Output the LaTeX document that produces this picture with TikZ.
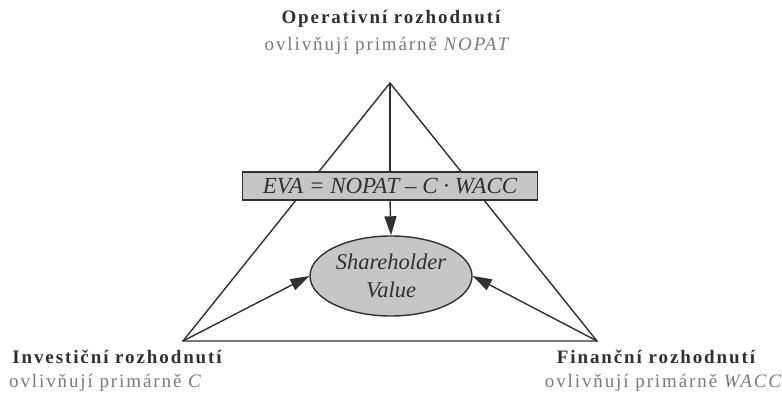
\documentclass[tikz,border=0pt]{standalone}
\usepackage{fontspec}
\setmainfont{Liberation Serif}
\newfontfamily\spacedfont[LetterSpace=10]{Liberation Serif}
\usetikzlibrary{arrows.meta,shapes.geometric}
\definecolor{linegray}{HTML}{303030}
\definecolor{subgray}{HTML}{7A7A7A}
\definecolor{fillgray}{HTML}{C6C6C6}
\begin{document}
\begin{tikzpicture}[x=1pt, y=-1pt,
		edge/.style={draw=linegray, line width=1.4pt},
		head/.style={edge, -{Triangle[length=19pt, width=12pt]}},
		title/.style={text=linegray, font=\spacedfont\fontsize{19}{22}\selectfont\bfseries},
		sub/.style={text=subgray, font=\spacedfont\fontsize{19}{22}\selectfont}]
				\useasboundingbox (0, 0) rectangle (782, 396);
				\coordinate (top) at (390, 83);
				\coordinate (left) at (183, 341);
				\coordinate (right) at (597, 341);
				
				\draw[edge, line join=miter] (top) -- (left) -- (right) -- cycle;
				
				\node[edge, fill=fillgray, minimum width=295pt, minimum height=28pt, inner sep=0pt,
					font=\fontsize{23}{24}\selectfont\itshape, text=linegray] (eva) at (390, 186)
					{EVA = NOPAT – C · WACC};
				\node[edge, fill=fillgray, ellipse, minimum width=162pt, minimum height=80pt, inner sep=0pt,
					align=center, font=\fontsize{22.5}{28}\selectfont\itshape, text=linegray] (sv) at (391, 276)
					{Shareholder\\Value};
				
				\draw[edge] (top) -- (eva.north);
				\draw[head] (eva.south) -- (sv.north);
				\draw[head] (left) -- (sv.west);
				\draw[head] (right) -- (sv.east);
				
				\node[title] (opTitle) at (391, 19) {Operativní rozhodnutí};
				\node[sub] (opSub) at (388, 46) {ovlivňují primárně \textit{NOPAT}};
				\node[title] (invTitle) at (117, 357) {Investiční rozhodnutí};
				\node[sub] (invSub) at (106, 383) {ovlivňují primárně \textit{C}};
				\node[title] (finTitle) at (656, 357) {Finanční rozhodnutí};
				\node[sub] (finSub) at (664, 383) {ovlivňují primárně \textit{WACC}};
			\end{tikzpicture}
\end{document}
